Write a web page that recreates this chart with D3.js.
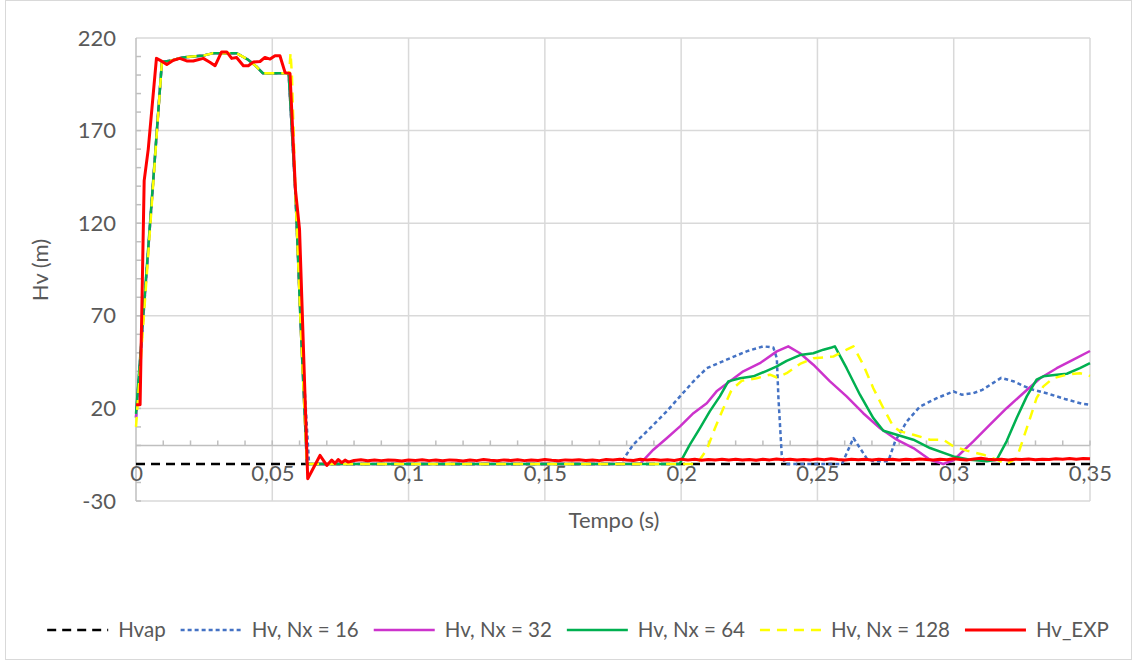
<!DOCTYPE html>
<html><head><meta charset="utf-8">
<script src="https://cdn.jsdelivr.net/npm/d3@7"></script>
<style>body{margin:0;background:#fff} text{font-family:Lato,"Open Sans",sans-serif}</style>
</head><body><svg id="c" width="1137" height="660"></svg>
<script>
// ---------- data ----------
const xTicks = [0,0.05,0.1,0.15,0.2,0.25,0.3,0.35];
const xTickLabels = ["0","0,05","0,1","0,15","0,2","0,25","0,3","0,35"];
const yTicks = [-30,20,70,120,170,220];
const yTickLabels = ["-30","20","70","120","170","220"];
const xTitle = "Tempo (s)";
const yTitle = "Hv (m)";
const seriesNames = ["Hvap","Hv, Nx = 16","Hv, Nx = 32","Hv, Nx = 64","Hv, Nx = 128","Hv_EXP"];

const hvap = [[0,-10],[0.35,-10]];

const nx16 = [[0,15],[0.0095,207],[0.0135,208],[0.017,209.5],[0.025,210.6],[0.028,211.7],[0.037,211.7],[0.041,208.4],[0.044,204.8],[0.0465,201],[0.056,201],[0.0585,136],[0.0605,64],[0.0635,-10],
 [0.1776,-10],[0.1824,0.4],[0.1886,9.3],[0.1947,18.4],[0.1996,26.5],[0.2045,34.6],[0.2094,41.7],[0.2167,46.3],[0.224,50.8],[0.2301,53.5],[0.2338,52.9],[0.2351,47.1],[0.2357,25.5],[0.2369,-5],[0.2381,-9.5],[0.239,-10],
 [0.259,-10],[0.2632,4],[0.2681,-7],[0.2705,-8.5],[0.276,-8.5],[0.2785,2.2],[0.2828,13],[0.2876,21],[0.2938,25.5],[0.2999,29.2],[0.3029,27.4],[0.3072,28.2],[0.3105,30],[0.3174,36.5],[0.3218,34.7],[0.3281,30.5],[0.3345,28],[0.3408,25.1],[0.3471,22.5],[0.35,22]];

const nx32 = [[0,15],[0.0095,207],[0.0135,208],[0.017,209.5],[0.025,210.6],[0.028,211.7],[0.037,211.7],[0.041,208.4],[0.044,204.8],[0.0465,201],[0.056,201],[0.0585,136],[0.0605,62],[0.0627,-10],
 [0.1849,-10],[0.1898,-2.3],[0.1947,3.9],[0.1996,10.3],[0.2045,17.4],[0.2094,22.8],[0.213,29.2],[0.2179,34.6],[0.2228,40],[0.2289,44.4],[0.2351,50.8],[0.2393,53.5],[0.2436,49.8],[0.2485,43.6],[0.2546,34.6],[0.2607,26.5],[0.2668,17.4],[0.273,9.3],[0.2791,3.1],[0.2852,-1.4],[0.2913,-7.7],[0.2962,-10],[0.2999,-8],[0.3072,2.2],[0.3133,11.2],[0.3194,20.1],[0.3255,28.2],[0.3317,36.3],[0.3378,41.7],[0.3439,46.3],[0.35,51]];

const nx64 = [[0,17],[0.0095,207],[0.0135,208],[0.017,209.5],[0.025,210.6],[0.028,211.7],[0.037,211.7],[0.041,208.4],[0.044,204.8],[0.0465,201],[0.056,201],[0.0585,136],[0.0605,62],[0.0627,-10],
 [0.1995,-10],[0.2002,-7.7],[0.2032,0.4],[0.2069,9.3],[0.2105,18.4],[0.2142,26.5],[0.2173,34.6],[0.2216,36.3],[0.2265,37.3],[0.2314,40.3],[0.2351,42.7],[0.2387,45.7],[0.2436,48.8],[0.2485,49.8],[0.2522,51.7],[0.2552,52.9],[0.2564,53.5],[0.2607,41.7],[0.2656,27.4],[0.2705,14.8],[0.2742,7.9],[0.2791,5.8],[0.2852,3.1],[0.2913,-1.4],[0.2999,-5.9],[0.306,-7.7],[0.3121,-8.6],[0.3158,-7.7],[0.3194,2.2],[0.3231,14.8],[0.3268,26.5],[0.3304,35.5],[0.3329,37.3],[0.3378,38.2],[0.3415,38.7],[0.3463,41.7],[0.35,44.4]];

const nx128 = [[0,10],[0.0095,207],[0.0135,208],[0.017,209.5],[0.025,210.6],[0.028,211.7],[0.037,211.7],[0.041,208.4],[0.044,204.8],[0.0465,201],[0.0562,201],[0.0567,212],[0.0572,200],[0.0585,136],[0.0605,62],[0.0627,-10],
 [0.2057,-10],[0.2094,-2.3],[0.2124,9.3],[0.2155,20.1],[0.2185,30],[0.2222,34.9],[0.2277,36.3],[0.2326,38.2],[0.2351,36.7],[0.2387,39],[0.2436,44],[0.2485,47.1],[0.2558,48],[0.2607,51.7],[0.2632,53.5],[0.2668,43.6],[0.2705,30.9],[0.2742,20.1],[0.2778,10.3],[0.2803,7.6],[0.2852,5.8],[0.2913,3.1],[0.2962,3.1],[0.2999,-0.5],[0.3048,-2.8],[0.3109,-5],[0.3158,-7.7],[0.3194,-10],[0.3231,-6.9],[0.3268,9.3],[0.3304,25.5],[0.3329,31.9],[0.3365,36.3],[0.3415,38.2],[0.3463,39],[0.35,37.5]];

const hvExp = [[0,22],[0.0015,22],[0.003,143],[0.0045,160],[0.0075,209],[0.0094,207.5],[0.0113,205.7],[0.0137,208],[0.0161,209],[0.0186,207.6],[0.021,207.6],[0.0247,209],[0.0271,206.9],[0.029,205],[0.0314,212.5],[0.0333,212.5],[0.0351,209],[0.0369,209.5],[0.0394,205],[0.0412,205],[0.043,207],[0.0455,207.3],[0.0473,209.5],[0.0492,208.6],[0.051,210.4],[0.0528,210.4],[0.0547,201.3],[0.0565,200.8],[0.0585,138],[0.06,116.6],[0.063,-18],[0.0675,-5.4],[0.07,-10.8],[0.0718,-7.9],[0.073,-9.7],[0.0742,-7.6],[0.0755,-9.3],[0.0767,-7.9],[0.0779,-9],
 [0.08,-8.1],[0.0825,-7.7],[0.085,-8.3],[0.0875,-7.9],[0.09,-8.2],[0.0925,-7.8],[0.095,-8],[0.0975,-8.4],[0.1,-7.9],[0.1025,-8.1],[0.105,-7.7],[0.1075,-8.2],[0.11,-7.9],[0.1125,-8.3],[0.115,-7.8],[0.1175,-8],[0.12,-8.4],[0.1225,-7.9],[0.125,-8.2],[0.1275,-7.6],[0.13,-8],[0.1325,-8.3],[0.135,-7.8],[0.1375,-8.1],[0.14,-7.7],[0.1425,-8.2],[0.145,-7.9],[0.1475,-8.1],[0.15,-7.6],[0.1525,-8],[0.155,-8.3],[0.1575,-7.8],[0.16,-8],[0.1625,-7.7],[0.165,-8.1],[0.1675,-7.8],[0.17,-8.2],[0.1725,-7.6],[0.175,-7.9],[0.1775,-7.4],[0.18,-7.8],[0.1825,-8.1],[0.185,-7.5],[0.1875,-7.9],[0.19,-7.6],[0.1925,-8],[0.195,-7.7],[0.1975,-8.1],[0.2,-7.4],[0.2025,-7.8],[0.205,-7.5],[0.2075,-8],[0.21,-7.6],[0.2125,-7.9],[0.215,-7.4],[0.2175,-7.8],[0.22,-7.5],[0.2225,-7.9],[0.225,-7.6],[0.2275,-8],[0.23,-7.5],[0.2325,-7.8],[0.235,-7.3],[0.2375,-7.7],[0.24,-7.5],[0.2425,-7.9],[0.245,-7.6],[0.2475,-7.8],[0.25,-7.3],[0.2525,-7.7],[0.255,-7.2],[0.2575,-7.6],[0.26,-7.8],[0.2625,-7.4],[0.265,-7.7],[0.2675,-7.5],[0.27,-7.9],[0.2725,-7.4],[0.275,-7.7],[0.2775,-7.5],[0.28,-7.8],[0.2825,-7.4],[0.285,-7.7],[0.2875,-7.3],[0.29,-7.6],[0.2925,-7.8],[0.295,-7.4],[0.2975,-7.7],[0.3,-7.2],[0.3025,-7.6],[0.305,-7.8],[0.3075,-7.3],[0.31,-6.9],[0.3125,-7.4],[0.315,-7.7],[0.3175,-7.5],[0.32,-7.8],[0.3225,-7.4],[0.325,-7.6],[0.3275,-7.3],[0.33,-7.7],[0.3325,-7.4],[0.335,-7.6],[0.3375,-7.2],[0.34,-7.5],[0.3425,-7.1],[0.345,-7.4],[0.3475,-7],[0.35,-7.2]];

// ---------- drawing ----------
const svg = d3.select("#c");
const W = 1137, H = 660;
const x = d3.scaleLinear().domain([0,0.35]).range([136,1090]);
const y = d3.scaleLinear().domain([-30,220]).range([501,38]);
const grid = "#d9d9d9", axisC = "#bfbfbf", txt = "#595959";

svg.append("rect").attr("x",5.5).attr("y",0.5).attr("width",W-11).attr("height",H-1)
  .attr("fill","#fff").attr("stroke","#d9d9d9").attr("stroke-width",1);

// gridlines
svg.append("g").selectAll("line").data(yTicks).join("line")
  .attr("x1",x(0)).attr("x2",x(0.35)).attr("y1",d=>y(d)).attr("y2",d=>y(d))
  .attr("stroke",grid).attr("stroke-width",1.5);
svg.append("g").selectAll("line").data(xTicks.slice(1)).join("line")
  .attr("x1",d=>x(d)).attr("x2",d=>x(d)).attr("y1",y(220)).attr("y2",y(-30))
  .attr("stroke",grid).attr("stroke-width",1.5);

// axis lines + minor ticks
svg.append("line").attr("x1",x(0)).attr("x2",x(0)).attr("y1",y(220)).attr("y2",y(-30)).attr("stroke",axisC).attr("stroke-width",1.5);
svg.append("line").attr("x1",x(0)).attr("x2",x(0.35)).attr("y1",y(0)).attr("y2",y(0)).attr("stroke",axisC).attr("stroke-width",1.5);
svg.append("g").selectAll("line").data(d3.range(1,36)).join("line")
  .attr("x1",d=>x(d/100)).attr("x2",d=>x(d/100)).attr("y1",y(0)).attr("y2",y(0)-5)
  .attr("stroke",axisC).attr("stroke-width",1.5);
svg.append("g").selectAll("line").data(d3.range(-3,22)).join("line")
  .attr("x1",x(0)).attr("x2",x(0)+5).attr("y1",d=>y(d*10)).attr("y2",d=>y(d*10))
  .attr("stroke",axisC).attr("stroke-width",1.5);

// tick labels via axes
const xAxis = d3.axisBottom(x).tickValues(xTicks).tickSize(0).tickPadding(20)
  .tickFormat((d,i)=>xTickLabels[i]);
const gx = svg.append("g").attr("transform",`translate(0,${y(0)})`).call(xAxis);
gx.select(".domain").remove();
gx.selectAll("text").attr("fill",txt).style("font-size","22px").style("font-family","Lato");

const yAxis = d3.axisLeft(y).tickValues(yTicks).tickSize(0).tickPadding(20)
  .tickFormat((d,i)=>yTickLabels[i]);
const gy = svg.append("g").attr("transform",`translate(${x(0)},0)`).call(yAxis);
gy.select(".domain").remove();
gy.selectAll("text").attr("fill",txt).style("font-size","22px").style("font-family","Lato");

// axis titles
svg.append("text").attr("x",614).attr("y",528).attr("text-anchor","middle")
  .attr("fill",txt).style("font-size","22px").text(xTitle);
svg.append("text").attr("transform","translate(48,270) rotate(-90)").attr("text-anchor","middle")
  .attr("fill",txt).style("font-size","22px").text(yTitle);

// series
const styles = [
  {data:hvap, color:"#000000", w:2.5, dash:"9,6"},
  {data:nx16, color:"#4472C4", w:2.5, dash:"4,3"},
  {data:nx32, color:"#CC33CC", w:2.5, dash:null},
  {data:nx64, color:"#00B050", w:2.5, dash:null},
  {data:nx128, color:"#FFFF00", w:2.5, dash:"10,7"},
  {data:hvExp, color:"#FF0000", w:3, dash:null}
];
const line = d3.line().x(d=>x(d[0])).y(d=>y(d[1]));
styles.forEach(s=>{
  svg.append("path").attr("d",line(s.data)).attr("fill","none")
    .attr("stroke",s.color).attr("stroke-width",s.w)
    .attr("stroke-dasharray",s.dash).attr("stroke-linejoin","round");
});

// legend
const lg = svg.append("g");
let cx = 0;
const LL = 61, G1 = 10, G2 = 15;
seriesNames.forEach((n,i)=>{
  const g = lg.append("g");
  const s = styles[i];
  g.append("line").attr("x1",cx).attr("x2",cx+LL).attr("y1",0).attr("y2",0)
    .attr("stroke",s.color).attr("stroke-width",s.w).attr("stroke-dasharray",s.dash);
  const t = g.append("text").attr("x",cx+LL+G1).attr("y",0).attr("dy","0.35em")
    .attr("fill",txt).style("font-size","20.5px").text(n);
  cx += LL + G1 + t.node().getComputedTextLength() + G2;
});
const total = cx - G2;
lg.attr("transform",`translate(${578 - total/2},630)`);
</script></body></html>
